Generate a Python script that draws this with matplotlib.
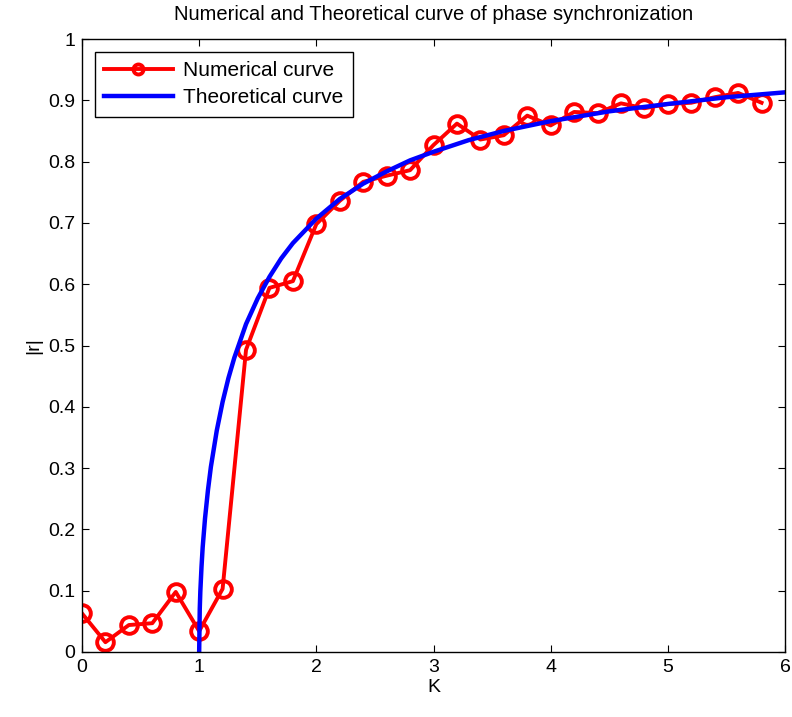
import matplotlib
matplotlib.use("Agg")
import matplotlib.pyplot as plt

plt.rcParams["font.family"] = ["Liberation Sans", "DejaVu Sans"]

# numerical curve
k_num = [0.0, 0.2, 0.4, 0.6, 0.8, 1.0, 1.2, 1.4, 1.6, 1.8, 2.0, 2.2, 2.4, 2.6, 2.8,
         3.0, 3.2, 3.4, 3.6, 3.8, 4.0, 4.2, 4.4, 4.6, 4.8, 5.0, 5.2, 5.4, 5.6, 5.8]
r_num = [0.063, 0.016, 0.044, 0.047, 0.098, 0.034, 0.103, 0.493, 0.594, 0.605,
         0.698, 0.736, 0.767, 0.777, 0.786, 0.827, 0.862, 0.836, 0.843, 0.875,
         0.859, 0.881, 0.879, 0.895, 0.887, 0.894, 0.896, 0.905, 0.912, 0.896]

# theoretical curve
k_theo = [1.0, 1.005, 1.01, 1.02, 1.03, 1.05, 1.075, 1.1, 1.15, 1.2, 1.25, 1.3,
          1.4, 1.5, 1.6, 1.7, 1.8, 2.0, 2.2, 2.4, 2.6, 2.8, 3.0, 3.3, 3.6, 4.0,
          4.5, 5.0, 5.5, 6.0]
r_theo = [0.0, 0.070, 0.099, 0.139, 0.171, 0.218, 0.264, 0.302, 0.361, 0.408,
          0.447, 0.480, 0.535, 0.577, 0.612, 0.642, 0.667, 0.707, 0.739, 0.764,
          0.784, 0.802, 0.816, 0.835, 0.850, 0.866, 0.882, 0.894, 0.905, 0.913]

fig = plt.figure(figsize=(7.92, 7.17), dpi=100)
ax = fig.add_axes([82 / 792, 1 - 652 / 717, 703 / 792, 613 / 717])

ax.plot(k_num, r_num, color="red", lw=2.8, marker="o", ms=12, mfc="none",
        mew=2.8, label="Numerical curve")
ax.plot(k_theo, r_theo, color="blue", lw=3.2, label="Theoretical curve")

ax.set_xlim(0, 6)
ax.set_ylim(0, 1)
ax.set_xticks(range(7))
ax.set_yticks([i / 10 for i in range(11)])
ax.set_yticklabels(["0"] + [f"{i / 10:.1f}" for i in range(1, 10)] + ["1"])
ax.tick_params(direction="in", top=True, right=True, labelsize=14, length=5,
               pad=5)
for s in ax.spines.values():
    s.set_linewidth(1)

ax.set_xlabel("K", fontsize=14, labelpad=2)
ax.set_ylabel("|r|", fontsize=14, labelpad=4)
ax.set_title("Numerical and Theoretical curve of phase synchronization",
             fontsize=14.5, pad=14)

leg = ax.legend(loc="upper left", fontsize=15, fancybox=False, framealpha=1,
                edgecolor="black", handlelength=3.3, borderaxespad=0.6,
                labelspacing=0.4, borderpad=0.45, handletextpad=0.5,
                markerscale=0.6)
leg.get_frame().set_linewidth(1)

fig.savefig("out.png", dpi=100)
